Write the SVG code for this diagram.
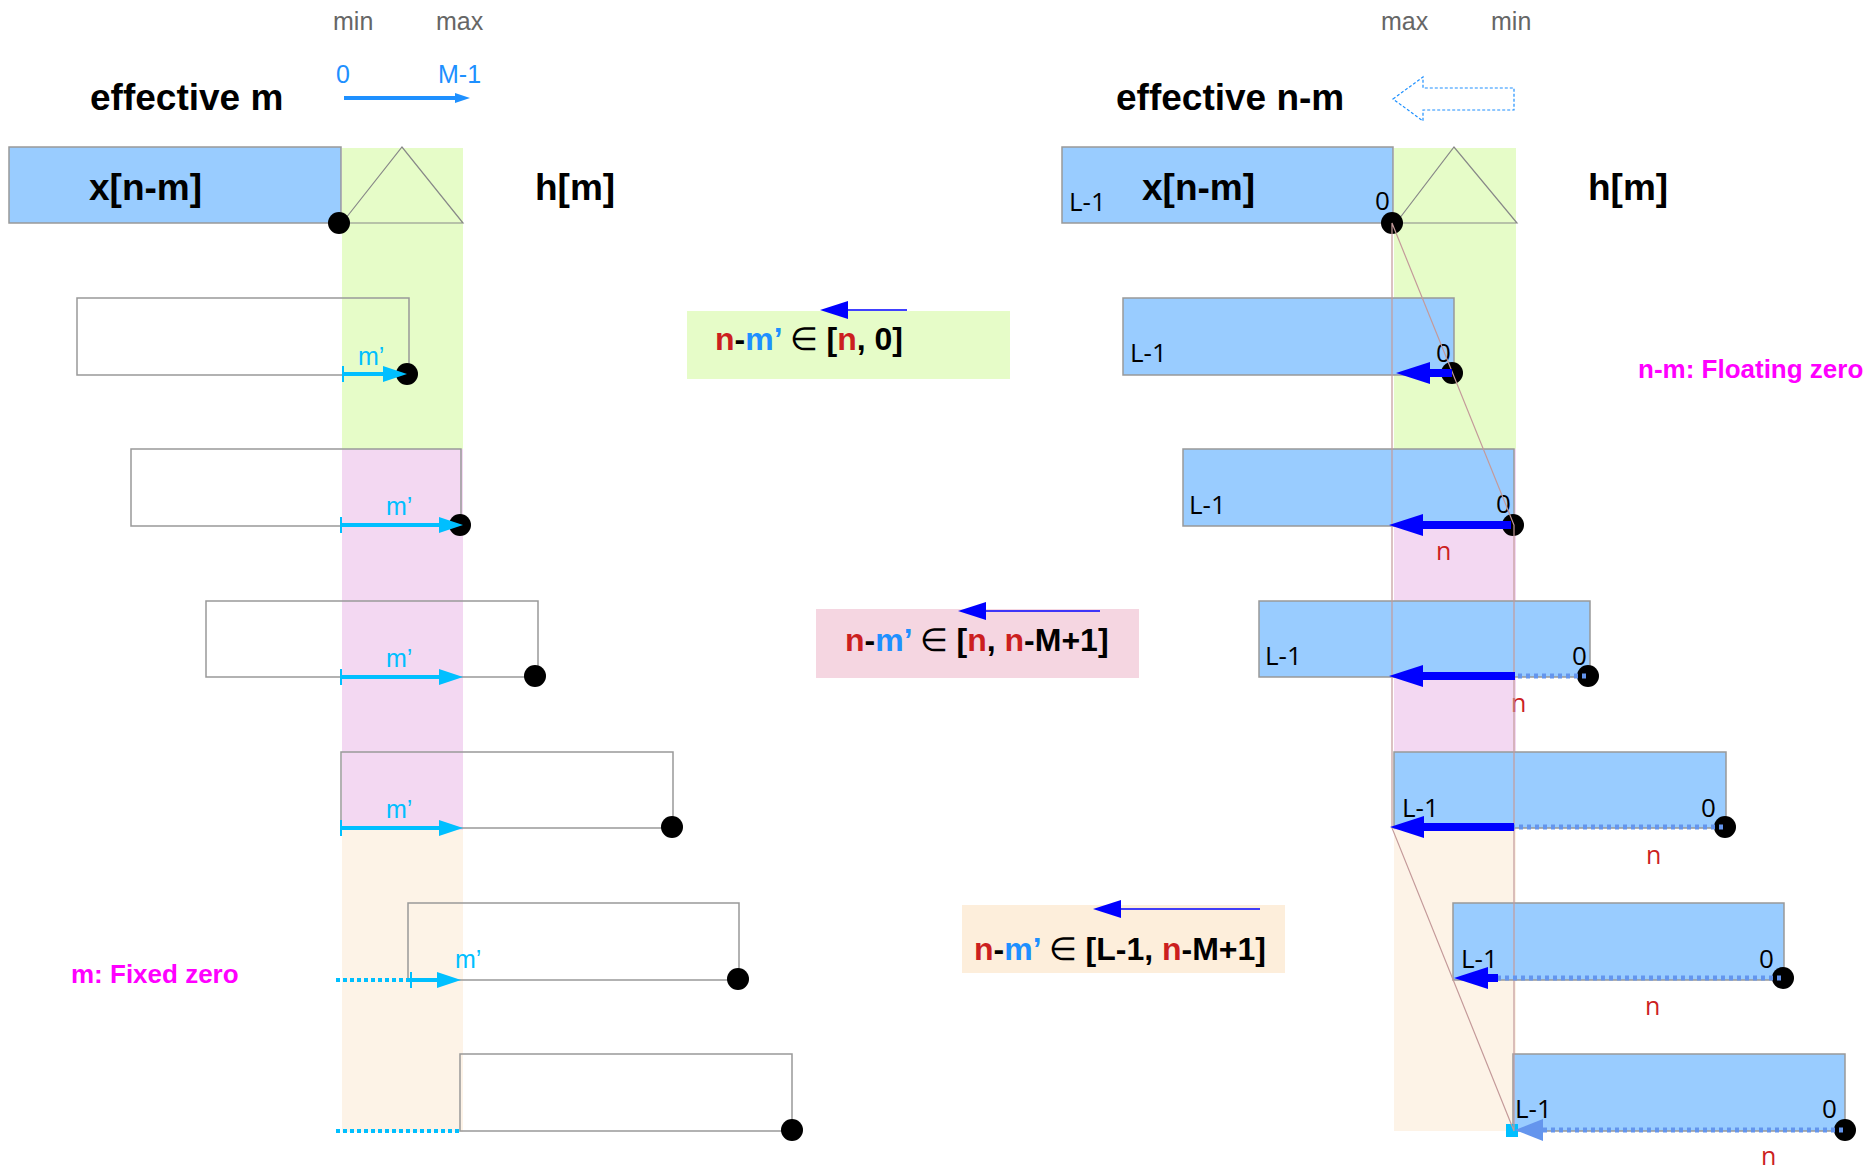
<svg xmlns="http://www.w3.org/2000/svg" width="1866" height="1169" viewBox="0 0 1866 1169">
<style>
.t{font-family:"Liberation Sans",Arial,sans-serif}
.big{font-family:"Liberation Sans",Arial,sans-serif;font-weight:bold;font-size:37px;fill:#000}
.mm{font-family:"Liberation Sans",Arial,sans-serif;font-size:25px;fill:#666}
.ax{font-family:"Liberation Sans",Arial,sans-serif;font-size:25px;fill:#1e90ff}
.mp{font-family:"Liberation Sans",Arial,sans-serif;font-size:25px;fill:#00bfff}
.lab{font-family:"Open Sans","DejaVu Sans",sans-serif;font-size:26px;fill:#000}
.nr{font-family:"Open Sans","DejaVu Sans",sans-serif;font-size:25px;fill:#cc1f1f}
.mag{font-family:"Liberation Sans",Arial,sans-serif;font-weight:bold;font-size:26px;fill:#ff00ff}
.eq{font-family:"Liberation Sans",Arial,sans-serif;font-weight:bold;font-size:32px;fill:#000}
.r{fill:#cc1f1f}.b{fill:#1e90ff}.thin{font-weight:normal}
.wr{fill:none;stroke:#999;stroke-width:1.5}
.br{fill:#99ccff;stroke:#999;stroke-width:1.5}
.dot{fill:#000}
.cy{stroke:#00bfff;stroke-width:4;fill:none}
.cyd{stroke:#00bfff;stroke-width:4;fill:none;stroke-dasharray:4 3}
.bl{stroke:#0000ff;stroke-width:8;fill:none}
.cd{stroke:#6495ed;stroke-width:5;fill:none;stroke-dasharray:4 4}
.tn{stroke:#0000ff;stroke-width:1.5;fill:none}
.edge{stroke:#c49a9a;stroke-width:1.2;fill:none}
</style>
<defs>
<marker id="hCy" markerUnits="userSpaceOnUse" markerWidth="24" markerHeight="16" refX="0" refY="8" orient="auto" overflow="visible"><path d="M0,0 L24,8 L0,16 z" fill="#00bfff"/></marker>
<marker id="tick" markerUnits="userSpaceOnUse" markerWidth="4" markerHeight="16" refX="1" refY="8" orient="auto" overflow="visible"><path d="M1,0 L1,16" stroke="#00bfff" stroke-width="2"/></marker>
<marker id="hBl" markerUnits="userSpaceOnUse" markerWidth="34" markerHeight="22" refX="0" refY="11" orient="auto" overflow="visible"><path d="M0,0 L34,11 L0,22 z" fill="#0000ff"/></marker>
<marker id="hCo" markerUnits="userSpaceOnUse" markerWidth="28" markerHeight="22" refX="0" refY="11" orient="auto" overflow="visible"><path d="M0,0 L28,11 L0,22 z" fill="#6495ed"/></marker>
<marker id="hTn" markerUnits="userSpaceOnUse" markerWidth="28" markerHeight="18" refX="0" refY="9" orient="auto" overflow="visible"><path d="M0,0 L28,9 L0,18 z" fill="#0000ff"/></marker>
<marker id="hDo" markerUnits="userSpaceOnUse" markerWidth="15" markerHeight="10" refX="0" refY="5" orient="auto" overflow="visible"><path d="M0,0 L15,5 L0,10 z" fill="#1e90ff"/></marker>
</defs>
<rect width="1866" height="1169" fill="#fff"/>

<g id="bands">
<rect x="342" y="148" width="121" height="301" fill="#e6fcc8"/>
<rect x="342" y="449" width="121" height="381" fill="#f3d8f2"/>
<rect x="342" y="830" width="121" height="302" fill="#fdf3e7"/>
<rect x="1394" y="148" width="122" height="301" fill="#e6fcc8"/>
<rect x="1394" y="449" width="122" height="381" fill="#f3d8f2"/>
<rect x="1394" y="830" width="122" height="301" fill="#fdf3e7"/>
</g>

<g id="headers">
<text class="mm" x="333" y="30">min</text>
<text class="mm" x="436" y="30">max</text>
<text class="ax" x="336" y="83">0</text>
<text class="ax" x="438" y="83">M-1</text>
<line x1="344" y1="98" x2="455" y2="98" stroke="#1e90ff" stroke-width="4" marker-end="url(#hDo)"/>
<text class="big" x="90" y="110">effective m</text>
<text class="mm" x="1381" y="30">max</text>
<text class="mm" x="1491" y="30">min</text>
<text class="big" x="1116" y="110">effective n-m</text>
<path d="M1393,99 L1423,77 L1423,88 L1514,88 L1514,110 L1423,110 L1423,121 z" fill="none" stroke="#1e90ff" stroke-width="1.2" stroke-dasharray="3 2"/>
</g>

<g id="left-x">
<rect class="br" x="9" y="147" width="332" height="76"/>
<text class="big" x="89" y="200">x[n-m]</text>
</g>
<g id="left-h">
<path d="M342,223 L402,147 L463,223 z" fill="none" stroke="#888" stroke-width="1.2"/>
<text class="big" x="535" y="200">h[m]</text>
</g>
<g id="left-rows">
<rect class="wr" x="77" y="298" width="332" height="77"/>
<rect class="wr" x="131" y="449" width="330" height="77"/>
<rect class="wr" x="206" y="601" width="332" height="76"/>
<rect class="wr" x="341" y="752" width="332" height="76"/>
<rect class="wr" x="408" y="903" width="331" height="77"/>
<rect class="wr" x="460" y="1054" width="332" height="77"/>
<circle class="dot" cx="339" cy="223" r="11"/>
<circle class="dot" cx="407" cy="374" r="11"/>
<circle class="dot" cx="460" cy="525" r="11"/>
<circle class="dot" cx="535" cy="676" r="11"/>
<circle class="dot" cx="672" cy="827" r="11"/>
<circle class="dot" cx="738" cy="979" r="11"/>
<circle class="dot" cx="792" cy="1130" r="11"/>
<text class="mp" x="358" y="365">m’</text>
<text class="mp" x="386" y="515">m’</text>
<text class="mp" x="386" y="667">m’</text>
<text class="mp" x="386" y="818">m’</text>
<text class="mp" x="455" y="968">m’</text>
<text class="mag" x="71" y="983">m: Fixed zero</text>
</g>

<g id="mid-labels">
<rect x="687" y="311" width="323" height="68" fill="#e6fcc8"/>
<text class="eq" x="715" y="350"><tspan class="r">n</tspan>-<tspan class="b">m’</tspan> <tspan class="thin">∈</tspan> [<tspan class="r">n</tspan>, 0]</text>
<rect x="816" y="609" width="323" height="69" fill="#f5d6e1"/>
<text class="eq" x="845" y="651"><tspan class="r">n</tspan>-<tspan class="b">m’</tspan> <tspan class="thin">∈</tspan> [<tspan class="r">n</tspan>, <tspan class="r">n</tspan>-M+1]</text>
<rect x="962" y="905" width="323" height="68" fill="#fdeedb"/>
<text class="eq" x="974" y="960"><tspan class="r">n</tspan>-<tspan class="b">m’</tspan> <tspan class="thin">∈</tspan> [L-1, <tspan class="r">n</tspan>-M+1]</text>
</g>

<g id="right-x">
<rect class="br" x="1062" y="147" width="331" height="76"/>
<text class="big" x="1142" y="200">x[n-m]</text>
<text class="lab" x="1069" y="211">L-1</text>
<text class="lab" x="1375" y="210">0</text>
</g>
<g id="right-h">
<path d="M1396,223 L1454,147 L1517,223 z" fill="none" stroke="#888" stroke-width="1.2"/>
<text class="big" x="1588" y="200">h[m]</text>
</g>
<g id="right-rows">
<rect class="br" x="1123" y="298" width="331" height="77"/>
<rect class="br" x="1183" y="449" width="331" height="77"/>
<rect class="br" x="1259" y="601" width="331" height="76"/>
<rect class="br" x="1394" y="752" width="332" height="76"/>
<rect class="br" x="1453" y="903" width="331" height="77"/>
<rect class="br" x="1513" y="1054" width="332" height="77"/>
<text class="lab" x="1130" y="362">L-1</text>
<text class="lab" x="1189" y="514">L-1</text>
<text class="lab" x="1265" y="665">L-1</text>
<text class="lab" x="1402" y="817">L-1</text>
<text class="lab" x="1461" y="968">L-1</text>
<text class="lab" x="1515" y="1118">L-1</text>
<text class="lab" x="1436" y="362">0</text>
<text class="lab" x="1496" y="513">0</text>
<text class="lab" x="1572" y="665">0</text>
<text class="lab" x="1701" y="817">0</text>
<text class="lab" x="1759" y="968">0</text>
<text class="lab" x="1822" y="1118">0</text>
<circle class="dot" cx="1392" cy="223" r="11"/>
<circle class="dot" cx="1452" cy="373" r="11"/>
<circle class="dot" cx="1513" cy="525" r="11"/>
<circle class="dot" cx="1588" cy="676" r="11"/>
<circle class="dot" cx="1725" cy="827" r="11"/>
<circle class="dot" cx="1783" cy="978" r="11"/>
<circle class="dot" cx="1845" cy="1130" r="11"/>
<text class="nr" x="1436" y="560">n</text>
<text class="nr" x="1511" y="712">n</text>
<text class="nr" x="1646" y="864">n</text>
<text class="nr" x="1645" y="1015">n</text>
<text class="nr" x="1761" y="1165">n</text>
<text class="mag" x="1638" y="378">n-m: Floating zero</text>
<rect x="1506" y="1124" width="12" height="13" fill="#00bfff"/>
</g>

<g id="connectors">
<line class="cy" x1="343" y1="374" x2="383" y2="374" marker-start="url(#tick)" marker-end="url(#hCy)"/>
<line class="cy" x1="341" y1="525" x2="439" y2="525" marker-start="url(#tick)" marker-end="url(#hCy)"/>
<line class="cy" x1="341" y1="677" x2="439" y2="677" marker-start="url(#tick)" marker-end="url(#hCy)"/>
<line class="cy" x1="341" y1="828" x2="439" y2="828" marker-start="url(#tick)" marker-end="url(#hCy)"/>
<line class="cyd" x1="336" y1="980" x2="411" y2="980"/>
<line class="cy" x1="411" y1="980" x2="437" y2="980" marker-start="url(#tick)" marker-end="url(#hCy)"/>
<line class="cyd" x1="336" y1="1131" x2="460" y2="1131"/>

<line class="tn" x1="907" y1="310" x2="848" y2="310" marker-end="url(#hTn)"/>
<line class="tn" x1="1100" y1="611" x2="986" y2="611" marker-end="url(#hTn)"/>
<line class="tn" x1="1260" y1="909" x2="1121" y2="909" marker-end="url(#hTn)"/>

<path class="edge" d="M1392,223 L1514,525 L1514,1131 L1392,828 z"/>

<line class="bl" x1="1452" y1="373" x2="1430" y2="373" marker-end="url(#hBl)"/>
<line class="bl" x1="1511" y1="525" x2="1423" y2="525" marker-end="url(#hBl)"/>
<line class="cd" x1="1586" y1="676" x2="1515" y2="676"/>
<line class="bl" x1="1515" y1="676" x2="1423" y2="676" marker-end="url(#hBl)"/>
<line class="cd" x1="1723" y1="827" x2="1514" y2="827"/>
<line class="bl" x1="1514" y1="827" x2="1424" y2="827" marker-end="url(#hBl)"/>
<line class="cd" x1="1781" y1="978" x2="1498" y2="978"/>
<line class="bl" x1="1498" y1="978" x2="1488" y2="978" marker-end="url(#hBl)"/>
<line class="cd" x1="1843" y1="1130" x2="1543" y2="1130" marker-end="url(#hCo)"/>
</g>
</svg>
